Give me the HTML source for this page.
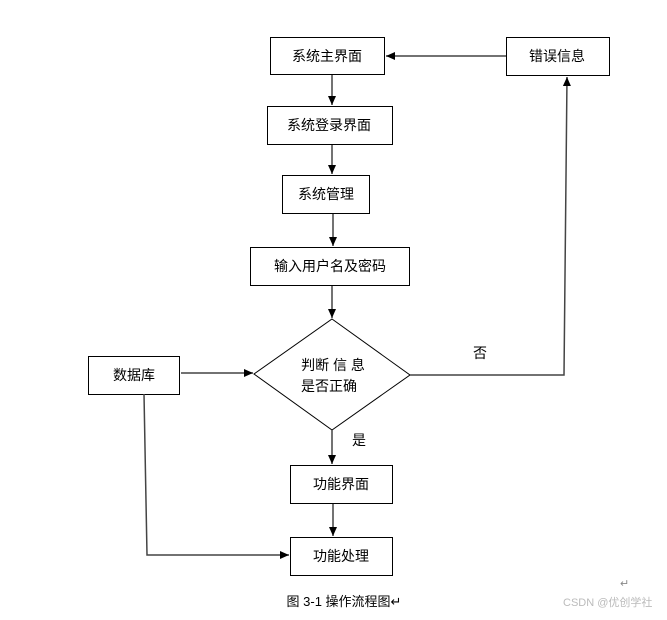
<!DOCTYPE html>
<html><head><meta charset="utf-8"><style>
body{margin:0;background:#fff}
svg text{font-family:"Liberation Sans","Noto Sans CJK SC",sans-serif;font-size:14px;fill:#000}
</style></head><body>
<svg width="667" height="615" viewBox="0 0 667 615" xmlns="http://www.w3.org/2000/svg">
<defs><marker id="a" markerWidth="10" markerHeight="10" refX="9" refY="5" orient="auto" markerUnits="userSpaceOnUse"><path d="M0,1 L9,5 L0,9 z" fill="#000"/></marker></defs>
<g fill="#fff" stroke="#000" stroke-width="1">
<rect x="270.5" y="37.5" width="114" height="37"/>
<rect x="506.5" y="37.5" width="103" height="38"/>
<rect x="267.5" y="106.5" width="125" height="38"/>
<rect x="282.5" y="175.5" width="87" height="38"/>
<rect x="250.5" y="247.5" width="159" height="38"/>
<polygon points="332,319 410,375 332,430 254,374"/>
<rect x="88.5" y="356.5" width="91" height="38"/>
<rect x="290.5" y="465.5" width="102" height="38"/>
<rect x="290.5" y="537.5" width="102" height="38"/>
</g>
<g stroke="#444" stroke-width="1.5" fill="none">
<line x1="332" y1="75" x2="332" y2="105" marker-end="url(#a)"/>
<line x1="332" y1="145" x2="332" y2="174" marker-end="url(#a)"/>
<line x1="333" y1="214" x2="333" y2="246" marker-end="url(#a)"/>
<line x1="332" y1="286" x2="332" y2="318" marker-end="url(#a)"/>
<line x1="506" y1="56" x2="386" y2="56" marker-end="url(#a)"/>
<polyline points="410,375 564,375 567,77" marker-end="url(#a)"/>
<line x1="181" y1="373" x2="253" y2="373" marker-end="url(#a)"/>
<line x1="332" y1="430" x2="332" y2="464" marker-end="url(#a)"/>
<line x1="333" y1="504" x2="333" y2="536" marker-end="url(#a)"/>
<polyline points="144,394 147,555 289,555" marker-end="url(#a)"/>
</g>
<g text-anchor="middle">
<text x="327" y="61">系统主界面</text>
<text x="557" y="61">错误信息</text>
<text x="329" y="130">系统登录界面</text>
<text x="326" y="199">系统管理</text>
<text x="330" y="271">输入用户名及密码</text>
<text x="333" y="370">判断 信 息</text>
<text x="329" y="391">是否正确</text>
<text x="134" y="380">数据库</text>
<text x="341" y="489">功能界面</text>
<text x="341" y="561">功能处理</text>
<text x="480" y="358">否</text>
<text x="359" y="445">是</text>
<text x="344" y="606" style="font-size:13px">图 3-1  操作流程图↵</text>
</g>
<text x="563" y="606" style="font-size:11px;fill:#bbb">CSDN @优创学社</text>
<text x="620" y="587" style="font-size:11px;fill:#888">↵</text>
</svg>
</body></html>
